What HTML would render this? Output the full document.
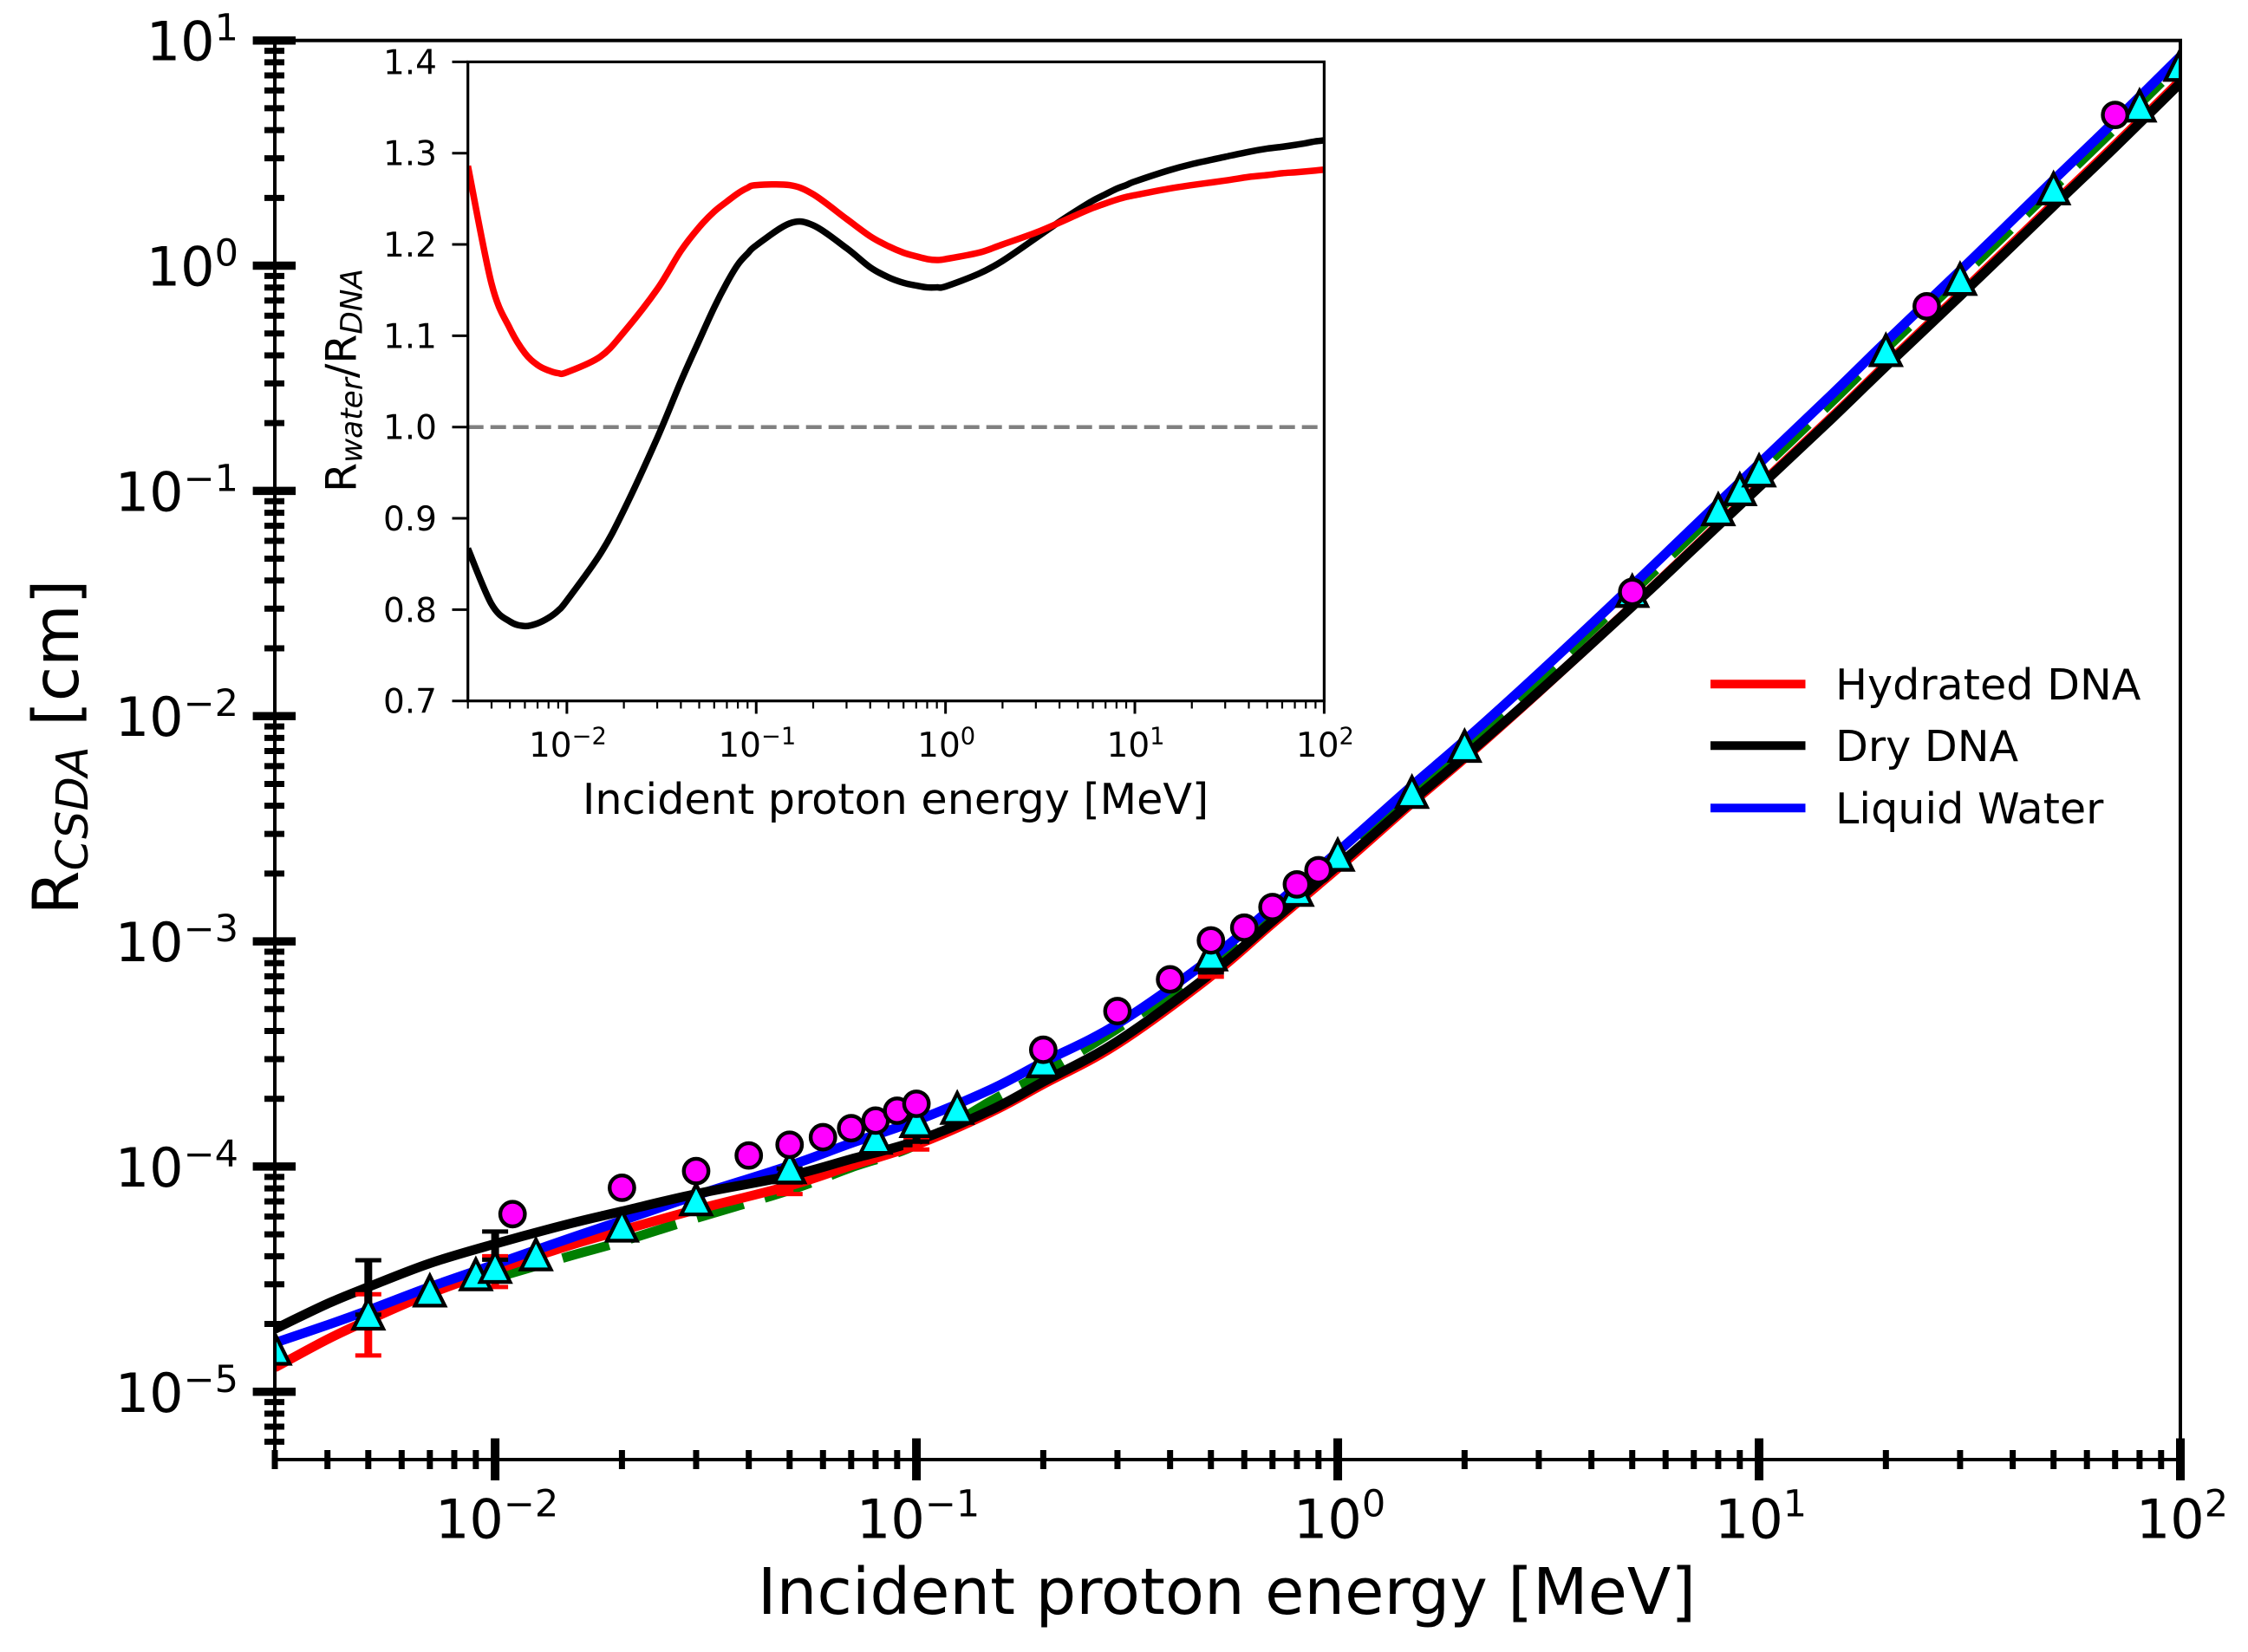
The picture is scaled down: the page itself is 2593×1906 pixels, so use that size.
<!DOCTYPE html>
<html lang="en">
<head>
<meta charset="utf-8">
<title>Proton CSDA range</title>
<style>
html,body{margin:0;padding:0;background:#fff}
svg{display:block}
text{font-family:"DejaVu Sans","Liberation Sans",sans-serif;fill:#000}
</style>
</head>
<body>
<svg id="chart" xmlns="http://www.w3.org/2000/svg" width="2593" height="1906" viewBox="0 0 2593 1906">
  <defs>
    <clipPath id="main-clip"><rect x="317" y="46.7" width="2198" height="1637.3"/></clipPath>
    <clipPath id="inset-clip"><rect x="539.7" y="71.4" width="987.7" height="737.3"/></clipPath>
  </defs>
  <rect x="0" y="0" width="2593" height="1906" fill="#fff"/>
  <g id="main-series" clip-path="url(#main-clip)"></g>
  <g id="main-frame"></g>
  <text x="1415" y="1862" text-anchor="middle" font-size="73.7">Incident proton energy [MeV]</text>
  <text transform="translate(90,862) rotate(-90)" text-anchor="middle" font-size="73.5">R<tspan font-size="51" font-style="italic" dy="11">CSDA</tspan><tspan dy="-11"> [cm]</tspan></text>

  <g>
    <line x1="1973" x2="2082.5" y1="789.3" y2="789.3" stroke="#ff0000" stroke-width="10"/>
    <text x="2117" y="807" font-size="49.2">Hydrated DNA</text>
    <line x1="1973" x2="2082.5" y1="860.3" y2="860.3" stroke="#000000" stroke-width="10"/>
    <text x="2117" y="878" font-size="49.2">Dry DNA</text>
    <line x1="1973" x2="2082.5" y1="932.3" y2="932.3" stroke="#0000ff" stroke-width="10"/>
    <text x="2117" y="950" font-size="49.2">Liquid Water</text>
  </g>

  <rect x="539.7" y="71.4" width="987.7" height="737.3" fill="#fff"/>
  <g id="inset-series" clip-path="url(#inset-clip)"></g>
  <g id="inset-frame"></g>
  <text x="1033" y="939" text-anchor="middle" font-size="49.2">Incident proton energy [MeV]</text>
  <text transform="translate(410.7,439) rotate(-90)" text-anchor="middle" font-size="49">R<tspan font-size="34.3" font-style="italic" dy="7">water</tspan><tspan dy="-7">/R</tspan><tspan font-size="34.3" font-style="italic" dy="7">DNA</tspan></text>
</svg>
<script>
// Main panel: energy grid (MeV) and CSDA range curves (cm)
const energyGrid = [0.003,0.004,0.005,0.007,0.01,0.015,0.02,0.03,0.05,0.07,0.1,0.15,0.2,0.3,0.5,0.7,1,1.5,2,3,5,7,10,15,20,30,50,70,100];
const liquidWater = [1.65e-5,1.98e-5,2.3e-5,2.92e-5,3.68e-5,4.8e-5,5.75e-5,7.45e-5,1.01e-4,1.27e-4,1.6e-4,2.2e-4,2.91e-4,4.3e-4,8.4e-4,1.42e-3,2.5e-3,4.9e-3,7.8e-3,0.0155,0.038,0.0695,0.132,0.272,0.46,0.95,2.4,4.4,8.5];
const hydratedDna = [1.28e-5,1.71e-5,2.08e-5,2.73e-5,3.47e-5,4.46e-5,5.21e-5,6.44e-5,8.22e-5,1.01e-4,1.25e-4,1.74e-4,2.32e-4,3.5e-4,7e-4,1.2e-3,2.11e-3,4.11e-3,6.5e-3,0.01278,0.0308,0.0558,0.1053,0.2157,0.3636,0.748,1.881,3.44,6.63];
const dryDna = [1.9e-5,2.46e-5,2.92e-5,3.72e-5,4.54e-5,5.57e-5,6.33e-5,7.56e-5,9.1e-5,1.08e-4,1.3e-4,1.78e-4,2.38e-4,3.6e-4,7.2e-4,1.23e-3,2.17e-3,4.2e-3,6.6e-3,0.01284,0.0307,0.0554,0.104,0.2123,0.3571,0.7325,1.84,3.36,6.47];
const referenceEnergy = [0.01,0.015,0.02,0.03,0.05,0.07,0.1,0.15,0.2,0.3,0.5,1,1.5,2,3,5,7,10,15,20,30,50,70,100];
const referenceRange = [3.2e-5,4.0e-5,4.65e-5,5.9e-5,7.85e-5,9.9e-5,1.25e-4,1.95e-4,2.6e-4,4.1e-4,7.9e-4,2.35e-3,4.6e-3,7.3e-3,0.0145,0.0355,0.0645,0.122,0.252,0.428,0.88,2.22,4.08,7.9];

// Main panel: cyan triangle data points
const triangleEnergy = [0.003,0.005,0.007,0.009,0.01,0.0125,0.02,0.03,0.05,0.08,0.1,0.125,0.2,0.5,0.8,1,1.5,2,5,8,9,10,20,30,50,80,100];
const triangleRange = [1.55e-5,2.22e-5,2.81e-5,3.32e-5,3.58e-5,4.07e-5,5.46e-5,7.14e-5,9.9e-5,1.34e-4,1.59e-4,1.82e-4,2.93e-4,8.73e-4,1.69e-3,2.42e-3,4.6e-3,7.36e-3,0.0359,0.0827,0.1015,0.123,0.421,0.872,2.2,5.13,7.78];

// Main panel: magenta circle data points
const circleEnergy = [0.011,0.02,0.03,0.04,0.05,0.06,0.07,0.08,0.09,0.1,0.2,0.3,0.4,0.5,0.6,0.7,0.8,0.9,5,25,70];
const circleRange = [6.15e-5,8.05e-5,9.55e-5,1.12e-4,1.25e-4,1.35e-4,1.48e-4,1.6e-4,1.77e-4,1.9e-4,3.3e-4,4.9e-4,6.78e-4,1.01e-3,1.15e-3,1.42e-3,1.79e-3,2.07e-3,0.0356,0.66,4.67];

// Main panel: error bars
const errorEnergy = [0.005,0.01,0.05,0.1,0.5];
const hydratedErrLow = [1.45e-5,2.92e-5,7.55e-5,1.19e-4,6.97e-4];
const hydratedErrHigh = [2.71e-5,4.0e-5,8.9e-5,1.35e-4,7.4e-4];
const dryErrLow = [2.2e-5,3.86e-5,8.5e-5,1.29e-4,7.28e-4];
const dryErrHigh = [3.84e-5,5.15e-5,9.8e-5,1.4e-4,7.6e-4];

// Inset: ratio curves
const ratioEnergy = [0.003,0.004,0.005,0.006,0.007,0.008,0.009,0.01,0.015,0.02,0.03,0.04,0.05,0.06,0.07,0.08,0.09,0.1,0.15,0.2,0.3,0.4,0.5,0.6,0.7,0.8,0.9,1,1.5,2,3,4,5,6,7,8,9,10,15,20,30,40,50,60,70,80,90,100];
const ratioHydrated = [1.286,1.157,1.108,1.081,1.068,1.062,1.059,1.06,1.077,1.104,1.151,1.193,1.219,1.236,1.247,1.256,1.262,1.265,1.265,1.255,1.228,1.209,1.198,1.191,1.187,1.184,1.183,1.184,1.191,1.2,1.213,1.224,1.233,1.24,1.245,1.249,1.252,1.254,1.261,1.265,1.27,1.274,1.276,1.278,1.279,1.28,1.281,1.282];
const ratioDry = [0.867,0.806,0.787,0.782,0.785,0.791,0.799,0.81,0.861,0.909,0.988,1.05,1.095,1.131,1.158,1.178,1.19,1.199,1.223,1.221,1.196,1.175,1.164,1.158,1.155,1.153,1.153,1.154,1.168,1.182,1.207,1.225,1.238,1.248,1.255,1.261,1.265,1.269,1.281,1.288,1.296,1.3015,1.305,1.307,1.309,1.311,1.313,1.314];
const ratioReference = [1,1];

// Tick labels and ticks
const xDecadeExponents = [-2,-1,0,1,2];
const yDecadeExponents = [1,0,-1,-2,-3,-4,-5];
const minorMultipliers = [2,3,4,5,6,7,8,9];
const insetYTicks = [0.7,0.8,0.9,1.0,1.1,1.2,1.3,1.4];
const insetYTickLabels = ['0.7','0.8','0.9','1.0','1.1','1.2','1.3','1.4'];

const NS = 'http://www.w3.org/2000/svg';
function el(tag, attrs, parent) {
  const n = document.createElementNS(NS, tag);
  for (const k in attrs) n.setAttribute(k, attrs[k]);
  parent.appendChild(n);
  return n;
}
function logAxis(min, max, p0, p1) {
  const a = Math.log10(min), b = Math.log10(max);
  return v => p0 + (Math.log10(v) - a) / (b - a) * (p1 - p0);
}
function linAxis(min, max, p0, p1) {
  return v => p0 + (v - min) / (max - min) * (p1 - p0);
}
// Smooth curve through the data points (Catmull-Rom in screen space)
function smoothPath(xs, ys, fx, fy) {
  const p = xs.map((x, i) => [fx(x), fy(ys[i])]);
  let d = 'M' + p[0][0].toFixed(2) + ' ' + p[0][1].toFixed(2);
  for (let i = 0; i < p.length - 1; i++) {
    const a = p[Math.max(i - 1, 0)], b = p[i], c = p[i + 1], e = p[Math.min(i + 2, p.length - 1)];
    const c1x = b[0] + (c[0] - a[0]) / 6, c1y = b[1] + (c[1] - a[1]) / 6;
    const c2x = c[0] - (e[0] - b[0]) / 6, c2y = c[1] - (e[1] - b[1]) / 6;
    d += 'C' + c1x.toFixed(2) + ' ' + c1y.toFixed(2) + ' ' + c2x.toFixed(2) + ' ' + c2y.toFixed(2) + ' ' + c[0].toFixed(2) + ' ' + c[1].toFixed(2);
  }
  return d;
}
function powerLabel(parent, x, y, anchor, size, supSize, rise, exponent) {
  const t = el('text', {x: x, y: y, 'text-anchor': anchor, 'font-size': size}, parent);
  const base = el('tspan', {}, t);
  base.textContent = '10';
  const sup = el('tspan', {'font-size': supSize, dy: -rise}, t);
  sup.textContent = String(exponent).replace('-', '\u2212');
  return t;
}

const xMain = logAxis(0.003, 100, 317, 2515);
const yMain = logAxis(5e-6, 10, 1684, 46.7);
const xInset = logAxis(0.003, 100, 539.7, 1527.4);
const yInset = linAxis(0.7, 1.4, 808.7, 71.4);

const mainSeries = document.getElementById('main-series');
const mainFrame = document.getElementById('main-frame');
const insetSeries = document.getElementById('inset-series');
const insetFrame = document.getElementById('inset-frame');
const lineBase = {fill: 'none', 'stroke-linejoin': 'round', 'stroke-linecap': 'butt'};

// Main curves
const greenLine = el('path', Object.assign({d: smoothPath(referenceEnergy, referenceRange, xMain, yMain), stroke: '#007f00', 'stroke-width': 11, 'stroke-dasharray': '56 25'}, lineBase), mainSeries);


const redLine = el('path', Object.assign({d: smoothPath(energyGrid, hydratedDna, xMain, yMain), stroke: '#ff0000', 'stroke-width': 11}, lineBase), mainSeries);


const blueLine = el('path', Object.assign({d: smoothPath(energyGrid, liquidWater, xMain, yMain), stroke: '#0000ff', 'stroke-width': 11}, lineBase), mainSeries);


const blackLine = el('path', Object.assign({d: smoothPath(energyGrid, dryDna, xMain, yMain), stroke: '#000000', 'stroke-width': 11}, lineBase), mainSeries);



// Error bars
function drawErrors(lows, highs, colour, label) {
  errorEnergy.forEach((e, i) => {
    const x = xMain(e), yl = yMain(lows[i]), yh = yMain(highs[i]);
    const g = el('g', {stroke: colour}, mainSeries);
    
    
    el('line', {x1: x, x2: x, y1: yl, y2: yh, 'stroke-width': 9}, g);
    el('line', {x1: x - 15, x2: x + 15, y1: yl, y2: yl, 'stroke-width': 5}, g);
    el('line', {x1: x - 15, x2: x + 15, y1: yh, y2: yh, 'stroke-width': 5}, g);
  });
}
drawErrors(hydratedErrLow, hydratedErrHigh, '#ff0000', 'hydrated-dna-error-bar');
drawErrors(dryErrLow, dryErrHigh, '#000000', 'dry-dna-error-bar');

// Triangles
triangleEnergy.forEach((e, i) => {
  const x = xMain(e), y = yMain(triangleRange[i]), s = 17.2;
  const pts = [x, y - s, x + s, y + s, x - s, y + s].map(v => v.toFixed(2));
  const tri = el('polygon', {points: pts[0] + ',' + pts[1] + ' ' + pts[2] + ',' + pts[3] + ' ' + pts[4] + ',' + pts[5], fill: '#00ffff', stroke: '#000', 'stroke-width': 4.3, 'stroke-linejoin': 'miter', 'stroke-miterlimit': 10}, mainSeries);
  
  
});

// Circles
circleEnergy.forEach((e, i) => {
  const dot = el('circle', {cx: xMain(e), cy: yMain(circleRange[i]), r: 14.2, fill: '#ff00ff', stroke: '#000', 'stroke-width': 4.4}, mainSeries);
  
  
});

// Main frame
const mainBox = el('rect', {x: 317, y: 46.7, width: 2198, height: 1637.3, fill: 'none', stroke: '#000', 'stroke-width': 4}, mainFrame);



xDecadeExponents.forEach(p => {
  const x = xMain(Math.pow(10, p));
  const tick = el('line', {x1: x, x2: x, y1: 1659.5, y2: 1708, stroke: '#000', 'stroke-width': 10}, mainFrame);
  
  
  const lab = powerLabel(mainFrame, x + 2, 1774.7, 'middle', 62, 43, 25, p);
  
  
});
[-3, -2, -1, 0, 1].forEach(p => minorMultipliers.forEach(m => {
  const v = m * Math.pow(10, p);
  if (v < 0.003 || v > 100) return;
  const x = xMain(v);
  const tick = el('line', {x1: x, x2: x, y1: 1673, y2: 1695, stroke: '#000', 'stroke-width': 7}, mainFrame);
  
  
}));
yDecadeExponents.forEach(p => {
  const y = yMain(Math.pow(10, p));
  const tick = el('line', {x1: 291.6, x2: 341, y1: y, y2: y, stroke: '#000', 'stroke-width': 9.5}, mainFrame);
  
  
  const lab = powerLabel(mainFrame, 275, y + 23, 'end', 62, 43, 23, p);
  
  
});
[-6, -5, -4, -3, -2, -1, 0].forEach(p => minorMultipliers.forEach(m => {
  const v = m * Math.pow(10, p);
  if (v < 5e-6 || v > 10) return;
  const y = yMain(v);
  const tick = el('line', {x1: 305, x2: 328, y1: y, y2: y, stroke: '#000', 'stroke-width': 7}, mainFrame);
  
  
}));

// Inset series
const unityLine = el('line', {x1: xInset(0.003), x2: xInset(100), y1: yInset(ratioReference[0]), y2: yInset(ratioReference[1]), stroke: '#808080', 'stroke-width': 4.5, 'stroke-dasharray': '18 8'}, insetSeries);


const insetBlack = el('path', Object.assign({d: smoothPath(ratioEnergy, ratioDry, xInset, yInset), stroke: '#000000', 'stroke-width': 7.5}, lineBase), insetSeries);


const insetRed = el('path', Object.assign({d: smoothPath(ratioEnergy, ratioHydrated, xInset, yInset), stroke: '#ff0000', 'stroke-width': 7.5}, lineBase), insetSeries);



// Inset frame
const insetBox = el('rect', {x: 539.7, y: 71.4, width: 987.7, height: 737.3, fill: 'none', stroke: '#000', 'stroke-width': 3.2}, insetFrame);


xDecadeExponents.forEach(p => {
  const x = xInset(Math.pow(10, p));
  const tick = el('line', {x1: x, x2: x, y1: 808.7, y2: 823.5, stroke: '#000', 'stroke-width': 3}, insetFrame);
  
  
  const lab = powerLabel(insetFrame, x + 1, 873, 'middle', 39, 27.3, 14.5, p);
  
  
});
[-3, -2, -1, 0, 1].forEach(p => minorMultipliers.forEach(m => {
  const v = m * Math.pow(10, p);
  if (v < 0.003 || v > 100) return;
  const x = xInset(v);
  const tick = el('line', {x1: x, x2: x, y1: 808.7, y2: 817.5, stroke: '#000', 'stroke-width': 2.2}, insetFrame);
  
  
}));
insetYTicks.forEach((v, i) => {
  const y = yInset(v);
  const tick = el('line', {x1: 521.5, x2: 539.7, y1: y, y2: y, stroke: '#000', 'stroke-width': 3}, insetFrame);
  
  
  const lab = el('text', {x: 504, y: y + 14, 'text-anchor': 'end', 'font-size': 39}, insetFrame);
  lab.textContent = insetYTickLabels[i];
  
  
});
</script>
</body>
</html>
